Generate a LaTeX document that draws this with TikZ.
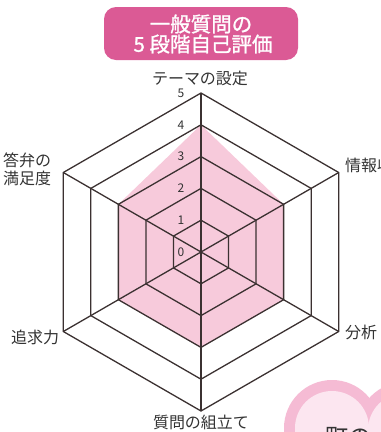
\documentclass[tikz,border=0pt]{standalone}
\usepackage{fontspec}
\usetikzlibrary{calc}
\newfontfamily\jp{Noto Sans CJK JP}
\newfontfamily\jpt[FakeBold=1.2]{Noto Sans CJK JP}
\definecolor{titlepink}{HTML}{DB5A95}
\definecolor{datapink}{HTML}{F7CADB}
\definecolor{gridline}{HTML}{3B3131}
\definecolor{heartborder}{HTML}{F5BBD4}
\definecolor{heartfill}{HTML}{FCE6F0}
\definecolor{labeltext}{HTML}{333333}
\tikzset{
  titlebox/.style={fill=titlepink, rounded corners=12pt, minimum width=194pt, minimum height=53pt, inner sep=0pt},
  titletext/.style={text=white, font=\jpt\fontsize{20.5}{20.5}\selectfont, inner sep=0pt},
  gridhex/.style={draw=gridline, line width=1.3pt, line join=miter},
  datafill/.style={fill=datapink},
  axislabel/.style={text=labeltext, font=\jp\fontsize{16}{18}\selectfont, inner sep=0pt},
  numlabel/.style={text=labeltext, font=\jp\fontsize{12}{12}\selectfont, inner sep=0pt},
}
\begin{document}
\begin{tikzpicture}[x=1pt,y=1pt]
\useasboundingbox (0,-432) rectangle (381,0);
\clip (0,-432) rectangle (381,0);
% title
\node[titlebox] (title) at (201,-33.5) {};
\node[titletext] (t1) at (201,-24) {一般質問の};
\node[titletext] (t2) at (203,-44) {5 段階自己評価};
% heart
\fill[heartborder] (332,-428) circle (48);
\fill[heartborder] (405,-430) circle (48);
\fill[heartfill] (332,-428) circle (37);
\fill[heartfill] (405,-430) circle (37);
\fill[heartfill] (345,-440) rectangle (395,-470);
\node[text=labeltext, font=\jp\fontsize{23}{23}\selectfont, inner sep=0pt, anchor=west] (town) at (325,-437) {町の};
% chart
\coordinate (C) at (201,-252);
\foreach \j/\a in {1/90,2/30,3/-30,4/-90,5/-150,6/150}{
  \foreach \l in {1,...,5}{
    \coordinate (v\l\j) at ($(C)+(\a:{\l*31.8})$);
  }
}
\fill[datafill] (v41) -- (v32) -- (v33) -- (v34) -- (v35) -- (v36) -- cycle;
\foreach \l in {1,...,5}{
  \draw[gridhex] (v\l1) -- (v\l2) -- (v\l3) -- (v\l4) -- (v\l5) -- (v\l6) -- cycle;
}
\foreach \j in {1,...,6}{
  \draw[gridhex] (C) -- (v5\j);
}
\foreach \l in {0,...,5}{
  \node[numlabel] (n\l) at ($(C)+(-20,{\l*31.8})$) {\l};
}
% axis labels
\node[axislabel] (a1) at (200,-78) {テーマの設定};
\node[axislabel, anchor=west] (a2) at (345,-165) {情報収集};
\node[axislabel, anchor=west] (a3) at (345,-332) {分析};
\node[axislabel] (a4) at (201,-422) {質問の組立て};
\node[axislabel, anchor=west] (a5) at (11,-337) {追求力};
\node[axislabel, anchor=west, align=left] (a6) at (3,-169) {答弁の\\満足度};
\end{tikzpicture}
\end{document}
